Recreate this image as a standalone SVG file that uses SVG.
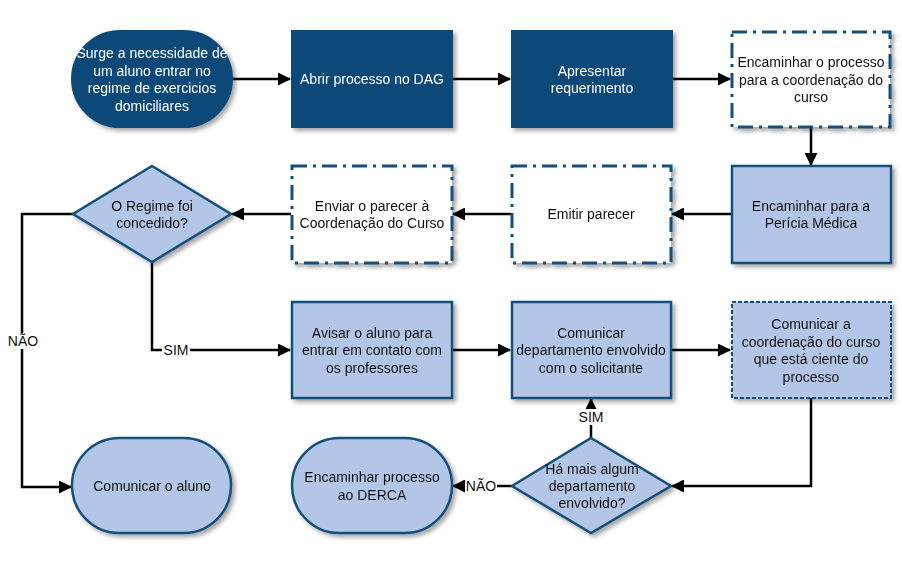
<svg xmlns="http://www.w3.org/2000/svg" width="902" height="563" viewBox="0 0 902 563">
<style>
.t{font-family:"Liberation Sans",Arial,sans-serif;font-size:14px;text-anchor:middle;dominant-baseline:central;fill:#111}
.w{fill:#fff}
.dark{fill:#0E4A78;stroke:#0E4A78;stroke-width:2}
.light{fill:#B4C6E7;stroke:#15507A;stroke-width:2.5}
.dd{fill:#fff;stroke:#15507A;stroke-width:3;stroke-dasharray:15 6 3 6}
.ds{fill:#B4C6E7;stroke:#15507A;stroke-width:2;stroke-dasharray:4 2}
.c{fill:none;stroke:#000;stroke-width:2.5}
.lbl{font-family:"Liberation Sans",Arial,sans-serif;font-size:14px;text-anchor:middle;dominant-baseline:central;fill:#111}
</style>
<defs>
<filter id="sh" x="-10%" y="-10%" width="130%" height="130%">
<feDropShadow dx="3" dy="3" stdDeviation="2" flood-color="#000" flood-opacity="0.35"/>
</filter>
<marker id="ah" markerWidth="13" markerHeight="13" refX="12" refY="6.5" orient="auto" markerUnits="userSpaceOnUse" viewBox="0 0 13 13">
<path d="M0,0 L13,6.5 L0,13 z" fill="#000"/>
</marker>
</defs>
<rect width="902" height="563" fill="#fff"/>

<g id="connectors">
<path class="c" d="M232,79 H290" marker-end="url(#ah)"/>
<path class="c" d="M452,79 H510" marker-end="url(#ah)"/>
<path class="c" d="M672,79 H730" marker-end="url(#ah)"/>
<path class="c" d="M811,128 V165" marker-end="url(#ah)"/>
<path class="c" d="M732,214 H672" marker-end="url(#ah)"/>
<path class="c" d="M511,214 H453" marker-end="url(#ah)"/>
<path class="c" d="M291,214 H232" marker-end="url(#ah)"/>
<path class="c" d="M73,214 H22 V487 H71" marker-end="url(#ah)"/>
<path class="c" d="M152,262 V350 H290" marker-end="url(#ah)"/>
<path class="c" d="M452,350 H510" marker-end="url(#ah)"/>
<path class="c" d="M671,350 H730" marker-end="url(#ah)"/>
<path class="c" d="M811,398 V486 H672" marker-end="url(#ah)"/>
<path class="c" d="M591,438 V399" marker-end="url(#ah)"/>
<path class="c" d="M512,486 H453" marker-end="url(#ah)"/>
<rect x="7" y="333" width="32" height="16" fill="#fff"/>
<text class="lbl" x="23" y="341">NÃO</text>
<rect x="162" y="342" width="28" height="16" fill="#fff"/>
<text class="lbl" x="176" y="350">SIM</text>
<rect x="578" y="409" width="26" height="16" fill="#fff"/>
<text class="lbl" x="591" y="417">SIM</text>
<rect x="465" y="478" width="32" height="16" fill="#fff"/>
<text class="lbl" x="481" y="486">NÃO</text>
</g>

<g id="n1" filter="url(#sh)">
<rect class="dark" x="72" y="31" width="160" height="96" rx="48"/>
<text class="t w" x="152" y="53">Surge a necessidade de</text>
<text class="t w" x="152" y="70.5">um aluno entrar no</text>
<text class="t w" x="152" y="88">regime de exercicios</text>
<text class="t w" x="152" y="105.5">domiciliares</text>
</g>
<g id="n2" filter="url(#sh)">
<rect class="dark" x="292" y="31" width="160" height="96"/>
<text class="t w" x="372" y="79">Abrir processo no DAG</text>
</g>
<g id="n3" filter="url(#sh)">
<rect class="dark" x="512" y="31" width="160" height="96"/>
<text class="t w" x="592" y="70.5">Apresentar</text>
<text class="t w" x="592" y="88">requerimento</text>
</g>
<g id="n4" filter="url(#sh)">
<rect class="dd" x="732" y="32" width="158" height="95"/>
<text class="t" x="811" y="62">Encaminhar o processo</text>
<text class="t" x="811" y="79.5">para a coordenação do</text>
<text class="t" x="811" y="97">curso</text>
</g>
<g id="n5" filter="url(#sh)">
<rect class="light" x="732" y="166" width="159" height="97"/>
<text class="t" x="811" y="205.5">Encaminhar para a</text>
<text class="t" x="811" y="223">Perícia Médica</text>
</g>
<g id="n6" filter="url(#sh)">
<rect class="dd" x="512" y="166" width="159" height="97"/>
<text class="t" x="591" y="214">Emitir parecer</text>
</g>
<g id="n7" filter="url(#sh)">
<rect class="dd" x="292" y="166" width="160" height="97"/>
<text class="t" x="372" y="205.5">Enviar o parecer à</text>
<text class="t" x="372" y="223">Coordenação do Curso</text>
</g>
<g id="d1" filter="url(#sh)">
<polygon class="light" points="152,166 231,214 152,262 73,214"/>
<text class="t" x="152" y="205.5">O Regime foi</text>
<text class="t" x="152" y="223">concedido?</text>
</g>
<g id="n8" filter="url(#sh)">
<rect class="light" x="292" y="302" width="160" height="96"/>
<text class="t" x="372" y="332.5">Avisar o aluno para</text>
<text class="t" x="372" y="350">entrar em contato com</text>
<text class="t" x="372" y="367.5">os professores</text>
</g>
<g id="n9" filter="url(#sh)">
<rect class="light" x="512" y="302" width="159" height="96"/>
<text class="t" x="591" y="332.5">Comunicar</text>
<text class="t" x="591" y="350">departamento envolvido</text>
<text class="t" x="591" y="367.5">com o solicitante</text>
</g>
<g id="n10" filter="url(#sh)">
<rect class="ds" x="732" y="302" width="159" height="96"/>
<text class="t" x="811" y="324">Comunicar a</text>
<text class="t" x="811" y="341.5">coordenação do curso</text>
<text class="t" x="811" y="359">que está ciente do</text>
<text class="t" x="811" y="376.5">processo</text>
</g>
<g id="d2" filter="url(#sh)">
<polygon class="light" points="591,438 671,486 591,533 512,486"/>
<text class="t" x="592" y="469">Há mais algum</text>
<text class="t" x="592" y="486">departamento</text>
<text class="t" x="592" y="503">envolvido?</text>
</g>
<g id="n11" filter="url(#sh)">
<rect class="light" x="72" y="438" width="159" height="95" rx="47.5"/>
<text class="t" x="152" y="486">Comunicar o aluno</text>
</g>
<g id="n12" filter="url(#sh)">
<rect class="light" x="292" y="438" width="160" height="95" rx="47.5"/>
<text class="t" x="372" y="477">Encaminhar processo</text>
<text class="t" x="372" y="494.5">ao DERCA</text>
</g>
</svg>
